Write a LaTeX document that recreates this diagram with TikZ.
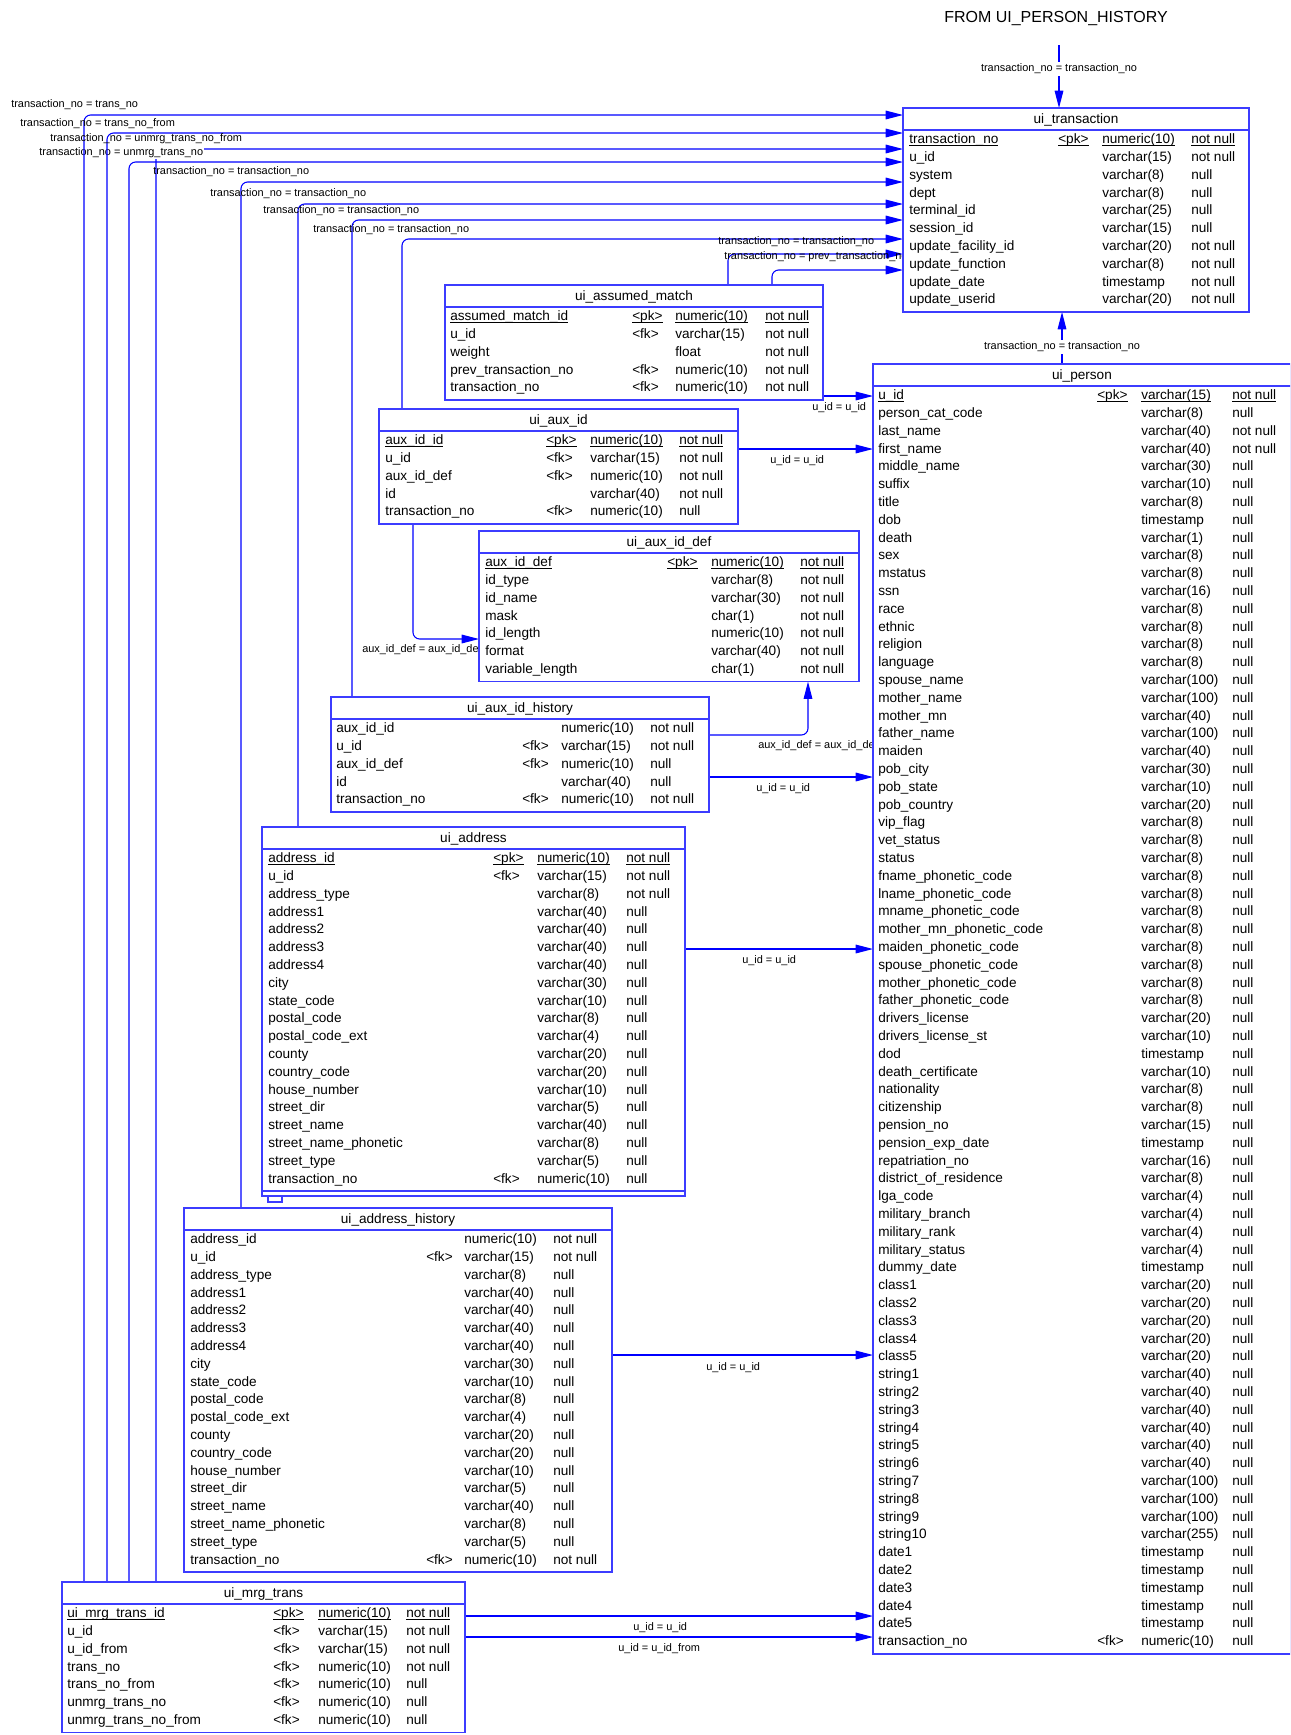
\documentclass[tikz,border=0pt]{standalone}
\usepackage{fontspec}
\setmainfont{Liberation Sans}
\usetikzlibrary{arrows.meta}
\definecolor{linkblue}{HTML}{0000FF}
\definecolor{boxblue}{HTML}{3C3CFF}
\pgfdeclarelayer{bg}
\pgfsetlayers{bg,main}
\newcommand{\rowfont}{\fontsize{10.2}{12}\selectfont}
\newcommand{\lblfont}{\fontsize{8.2}{10}\selectfont}
\newcommand{\ul}[1]{\setbox0\hbox{#1}\rlap{\rule[-1.9pt]{\wd0}{0.6pt}}\box0}
\newcommand{\ertable}[6]{%
  \node[tbl,minimum width={#4*0.75pt},minimum height={(26+17.8*#5)*0.75pt}] (#1) at (#2,#3) {};
  \draw[sep] (#2,#3+22) -- ++(#4,0);
  \node[ttl] (#1-h) at (#2+#4/2,#3+15.5) {#6};}
\newcommand{\errows}[7]{%
  \foreach \cname/\ckey/\ctype/\cnull [count=\i from 0] in {#7} {
    \node[cell] (#1-n\i) at (#3,#2+17.8*\i) {\cname};
    \node[cell] (#1-k\i) at (#4,#2+17.8*\i) {\ckey};
    \node[cell] (#1-t\i) at (#5,#2+17.8*\i) {\ctype};
    \node[cell] (#1-u\i) at (#6,#2+17.8*\i) {\cnull};
  }}

\begin{document}
\begin{tikzpicture}[x=0.75pt,y=-0.75pt,
  tbl/.style={draw=boxblue,line width=1.3pt,fill=white,anchor=north west,inner sep=0pt,outer sep=0pt},
  sep/.style={boxblue,line width=1.3pt},
  ttl/.style={anchor=base,inner sep=0pt,font=\rowfont},
  cell/.style={anchor=base west,inner sep=0pt,font=\rowfont},
  lbl/.style={anchor=base west,inner sep=0pt,font=\lblfont},
  wlbl/.style={fill=white,inner sep=1.5pt,font=\lblfont},
  fk/.style={linkblue,line width=0.8pt,rounded corners=5pt,-{Triangle[length=13pt,width=6.5pt]}}]
\useasboundingbox (0,0) rectangle (1290,1735);
\clip (0,0) rectangle (1290,1735);

\node[inner sep=0pt,font=\fontsize{12}{14}\selectfont] (hist) at (1056,19) {FROM UI\_PERSON\_HISTORY};
\coordinate (histend) at (1059,45);

\ertable{trans}{903}{108}{346}{10}{ui\_transaction}
\errows{trans}{143.7}{909}{1058}{1102}{1191}{
  \ul{transaction\_no}/\ul{<pk>}/\ul{numeric(10)}/\ul{not null},
  u\_id/{}/varchar(15)/not null,
  system/{}/varchar(8)/null,
  dept/{}/varchar(8)/null,
  terminal\_id/{}/varchar(25)/null,
  session\_id/{}/varchar(15)/null,
  update\_facility\_id/{}/varchar(20)/not null,
  update\_function/{}/varchar(8)/not null,
  update\_date/{}/timestamp/not null,
  update\_userid/{}/varchar(20)/not null}

\ertable{amatch}{445}{285}{378}{5}{ui\_assumed\_match}
\errows{amatch}{320.7}{450}{632}{675}{765}{
  \ul{assumed\_match\_id}/\ul{<pk>}/\ul{numeric(10)}/\ul{not null},
  u\_id/<fk>/varchar(15)/not null,
  weight/{}/float/not null,
  prev\_transaction\_no/<fk>/numeric(10)/not null,
  transaction\_no/<fk>/numeric(10)/not null}

\ertable{auxid}{379}{409}{359}{5}{ui\_aux\_id}
\errows{auxid}{444.7}{385}{546}{590}{679}{
  \ul{aux\_id\_id}/\ul{<pk>}/\ul{numeric(10)}/\ul{not null},
  u\_id/<fk>/varchar(15)/not null,
  aux\_id\_def/<fk>/numeric(10)/not null,
  id/{}/varchar(40)/not null,
  transaction\_no/<fk>/numeric(10)/null}

\ertable{auxdef}{479}{531}{380}{7}{ui\_aux\_id\_def}
\errows{auxdef}{566.7}{485}{667}{711}{800}{
  \ul{aux\_id\_def}/\ul{<pk>}/\ul{numeric(10)}/\ul{not null},
  id\_type/{}/varchar(8)/not null,
  id\_name/{}/varchar(30)/not null,
  mask/{}/char(1)/not null,
  id\_length/{}/numeric(10)/not null,
  format/{}/varchar(40)/not null,
  variable\_length/{}/char(1)/not null}

\ertable{auxhist}{331}{697}{378}{5}{ui\_aux\_id\_history}
\errows{auxhist}{732.7}{336}{522}{561}{650}{
  aux\_id\_id/{}/numeric(10)/not null,
  u\_id/<fk>/varchar(15)/not null,
  aux\_id\_def/<fk>/numeric(10)/null,
  id/{}/varchar(40)/null,
  transaction\_no/<fk>/numeric(10)/not null}

\ertable{addr}{262}{827}{423}{19}{ui\_address}
\draw[sep] (addr.south west) -- ++(0,5) -| (addr.south east);
\draw[sep] (268,0 |- addr.south) ++(0,5) -- ++(0,6) -- ++(14,0) -- ++(0,-6);
\errows{addr}{862.7}{268}{493}{537}{626}{
  \ul{address\_id}/\ul{<pk>}/\ul{numeric(10)}/\ul{not null},
  u\_id/<fk>/varchar(15)/not null,
  address\_type/{}/varchar(8)/not null,
  address1/{}/varchar(40)/null,
  address2/{}/varchar(40)/null,
  address3/{}/varchar(40)/null,
  address4/{}/varchar(40)/null,
  city/{}/varchar(30)/null,
  state\_code/{}/varchar(10)/null,
  postal\_code/{}/varchar(8)/null,
  postal\_code\_ext/{}/varchar(4)/null,
  county/{}/varchar(20)/null,
  country\_code/{}/varchar(20)/null,
  house\_number/{}/varchar(10)/null,
  street\_dir/{}/varchar(5)/null,
  street\_name/{}/varchar(40)/null,
  street\_name\_phonetic/{}/varchar(8)/null,
  street\_type/{}/varchar(5)/null,
  transaction\_no/<fk>/numeric(10)/null}

\ertable{ahist}{184}{1208}{428}{19}{ui\_address\_history}
\errows{ahist}{1243.7}{190}{426}{464}{553}{
  address\_id/{}/numeric(10)/not null,
  u\_id/<fk>/varchar(15)/not null,
  address\_type/{}/varchar(8)/null,
  address1/{}/varchar(40)/null,
  address2/{}/varchar(40)/null,
  address3/{}/varchar(40)/null,
  address4/{}/varchar(40)/null,
  city/{}/varchar(30)/null,
  state\_code/{}/varchar(10)/null,
  postal\_code/{}/varchar(8)/null,
  postal\_code\_ext/{}/varchar(4)/null,
  county/{}/varchar(20)/null,
  country\_code/{}/varchar(20)/null,
  house\_number/{}/varchar(10)/null,
  street\_dir/{}/varchar(5)/null,
  street\_name/{}/varchar(40)/null,
  street\_name\_phonetic/{}/varchar(8)/null,
  street\_type/{}/varchar(5)/null,
  transaction\_no/<fk>/numeric(10)/not null}

\ertable{mrg}{62}{1582}{403}{7}{ui\_mrg\_trans}
\errows{mrg}{1617.7}{67}{273}{318}{406}{
  \ul{ui\_mrg\_trans\_id}/\ul{<pk>}/\ul{numeric(10)}/\ul{not null},
  u\_id/<fk>/varchar(15)/not null,
  u\_id\_from/<fk>/varchar(15)/not null,
  trans\_no/<fk>/numeric(10)/not null,
  trans\_no\_from/<fk>/numeric(10)/null,
  unmrg\_trans\_no/<fk>/numeric(10)/null,
  unmrg\_trans\_no\_from/<fk>/numeric(10)/null}

\ertable{person}{873}{364}{418}{71}{ui\_person}
\errows{person}{399.7}{878}{1097}{1141}{1232}{
  \ul{u\_id}/\ul{<pk>}/\ul{varchar(15)}/\ul{not null},
  person\_cat\_code/{}/varchar(8)/null,
  last\_name/{}/varchar(40)/not null,
  first\_name/{}/varchar(40)/not null,
  middle\_name/{}/varchar(30)/null,
  suffix/{}/varchar(10)/null,
  title/{}/varchar(8)/null,
  dob/{}/timestamp/null,
  death/{}/varchar(1)/null,
  sex/{}/varchar(8)/null,
  mstatus/{}/varchar(8)/null,
  ssn/{}/varchar(16)/null,
  race/{}/varchar(8)/null,
  ethnic/{}/varchar(8)/null,
  religion/{}/varchar(8)/null,
  language/{}/varchar(8)/null,
  spouse\_name/{}/varchar(100)/null,
  mother\_name/{}/varchar(100)/null,
  mother\_mn/{}/varchar(40)/null,
  father\_name/{}/varchar(100)/null,
  maiden/{}/varchar(40)/null,
  pob\_city/{}/varchar(30)/null,
  pob\_state/{}/varchar(10)/null,
  pob\_country/{}/varchar(20)/null,
  vip\_flag/{}/varchar(8)/null,
  vet\_status/{}/varchar(8)/null,
  status/{}/varchar(8)/null,
  fname\_phonetic\_code/{}/varchar(8)/null,
  lname\_phonetic\_code/{}/varchar(8)/null,
  mname\_phonetic\_code/{}/varchar(8)/null,
  mother\_mn\_phonetic\_code/{}/varchar(8)/null,
  maiden\_phonetic\_code/{}/varchar(8)/null,
  spouse\_phonetic\_code/{}/varchar(8)/null,
  mother\_phonetic\_code/{}/varchar(8)/null,
  father\_phonetic\_code/{}/varchar(8)/null,
  drivers\_license/{}/varchar(20)/null,
  drivers\_license\_st/{}/varchar(10)/null,
  dod/{}/timestamp/null,
  death\_certificate/{}/varchar(10)/null,
  nationality/{}/varchar(8)/null,
  citizenship/{}/varchar(8)/null,
  pension\_no/{}/varchar(15)/null,
  pension\_exp\_date/{}/timestamp/null,
  repatriation\_no/{}/varchar(16)/null,
  district\_of\_residence/{}/varchar(8)/null,
  lga\_code/{}/varchar(4)/null,
  military\_branch/{}/varchar(4)/null,
  military\_rank/{}/varchar(4)/null,
  military\_status/{}/varchar(4)/null,
  dummy\_date/{}/timestamp/null,
  class1/{}/varchar(20)/null,
  class2/{}/varchar(20)/null,
  class3/{}/varchar(20)/null,
  class4/{}/varchar(20)/null,
  class5/{}/varchar(20)/null,
  string1/{}/varchar(40)/null,
  string2/{}/varchar(40)/null,
  string3/{}/varchar(40)/null,
  string4/{}/varchar(40)/null,
  string5/{}/varchar(40)/null,
  string6/{}/varchar(40)/null,
  string7/{}/varchar(100)/null,
  string8/{}/varchar(100)/null,
  string9/{}/varchar(100)/null,
  string10/{}/varchar(255)/null,
  date1/{}/timestamp/null,
  date2/{}/timestamp/null,
  date3/{}/timestamp/null,
  date4/{}/timestamp/null,
  date5/{}/timestamp/null,
  transaction\_no/<fk>/numeric(10)/null}

\begin{pgfonlayer}{bg}
\draw[fk] (156,0 |- mrg.north) |- (trans.west |- 0,149);
\node[lbl,fill=white,inner sep=0.8pt] (l-unmrg) at (38,155.5) {transaction\_no = unmrg\_trans\_no};
\draw[fk] (84,0 |- mrg.north) |- (trans.west |- 0,115);
\draw[fk] (107,0 |- mrg.north) |- (trans.west |- 0,133);
\draw[fk] (129,0 |- mrg.north) |- (trans.west |- 0,162);
\draw[fk] (241,0 |- ahist.north) |- (trans.west |- 0,182);
\draw[fk] (298,0 |- addr.north) |- (trans.west |- 0,204);
\draw[fk] (352,0 |- auxhist.north) |- (trans.west |- 0,220);
\draw[fk] (402,0 |- auxid.north) |- (trans.west |- 0,239);
\draw[fk] (728,0 |- amatch.north) |- (trans.west |- 0,254);
\draw[fk] (772,0 |- amatch.north) |- (trans.west |- 0,270);
\node[lbl] (l-trno) at (11,107.5) {transaction\_no = trans\_no};
\node[lbl] (l-trnofrom) at (20,126.5) {transaction\_no = trans\_no\_from};
\node[lbl] (l-unmrgfrom) at (50,141.5) {transaction\_no = unmrg\_trans\_no\_from};
\node[lbl] (l-ahist) at (153,174.5) {transaction\_no = transaction\_no};
\node[lbl] (l-addr) at (210,196.5) {transaction\_no = transaction\_no};
\node[lbl] (l-auxhist) at (263,213.5) {transaction\_no = transaction\_no};
\node[lbl] (l-auxid) at (313,232.5) {transaction\_no = transaction\_no};
\node[lbl] (l-amatch) at (718,244.5) {transaction\_no = transaction\_no};
\node[lbl] (l-prev) at (724,259.5) {transaction\_no = prev\_transaction\_no};

\draw[fk] (histend) -- (histend |- trans.north);
\node[wlbl] (l-hist) at (1059,69) {transaction\_no = transaction\_no};
\draw[fk] (1062,0 |- person.north) -- (1062,0 |- trans.south);
\node[wlbl] (l-person) at (1062,347) {transaction\_no = transaction\_no};

\draw[fk] (amatch.east |- 0,396) -- (person.west |- 0,396);
\draw[fk] (auxid.east |- 0,449) -- (person.west |- 0,449);
\draw[fk] (auxhist.east |- 0,777) -- (person.west |- 0,777);
\draw[fk] (addr.east |- 0,949) -- (person.west |- 0,949);
\draw[fk] (ahist.east |- 0,1355) -- (person.west |- 0,1355);
\draw[fk] (mrg.east |- 0,1616) -- (person.west |- 0,1616);
\draw[fk] (mrg.east |- 0,1637) -- (person.west |- 0,1637);
\draw[fk] (413,0 |- auxid.south) |- (auxdef.west |- 0,639);
\draw[fk] (auxhist.east |- 0,735) -| (808,0 |- auxdef.south);
\node[lbl] (l-am-uid) at (812,410.5) {u\_id = u\_id};
\node[lbl] (l-ai-uid) at (770,463.5) {u\_id = u\_id};
\node[lbl] (l-ah-uid) at (756,791.5) {u\_id = u\_id};
\node[lbl] (l-ad-uid) at (742,963.5) {u\_id = u\_id};
\node[lbl] (l-adh-uid) at (706,1370.5) {u\_id = u\_id};
\node[lbl] (l-mt-uid) at (633,1630.5) {u\_id = u\_id};
\node[lbl] (l-mt-from) at (618,1651.5) {u\_id = u\_id\_from};
\node[lbl] (l-ai-def) at (362,652.5) {aux\_id\_def = aux\_id\_def};
\node[lbl] (l-ah-def) at (758,748.5) {aux\_id\_def = aux\_id\_def};
\end{pgfonlayer}
\end{tikzpicture}
\end{document}
